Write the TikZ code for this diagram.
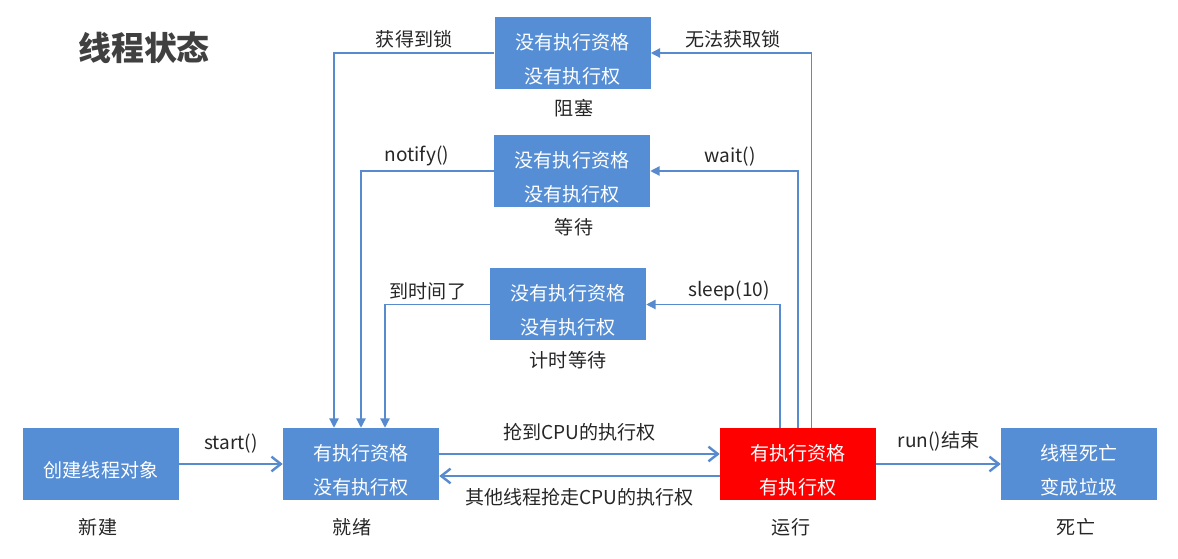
\documentclass[tikz,border=0pt]{standalone}
\usepackage{fontspec}
\setmainfont{Noto Sans CJK SC}
\usetikzlibrary{arrows.meta,positioning,calc}

\definecolor{boxblue}{RGB}{85,142,213}
\definecolor{lineblue}{RGB}{88,138,206}
\definecolor{titlegray}{RGB}{64,64,64}

\newcommand\lift{\rule{0pt}{21pt}}

\tikzset{
  state/.style={fill=boxblue, text=white, minimum width=117pt, minimum height=54pt,
                align=center, inner sep=0pt,
                font=\fontsize{14.3}{25.5}\selectfont},
  caption/.style={font=\fontsize{14.3}{17}\selectfont, text=black!85},
  lbl/.style={font=\fontsize{14.3}{17}\selectfont, text=black!85, inner sep=2pt},
  back/.style={draw=lineblue, line width=1pt, -{Triangle[length=7pt,width=7pt]}},
  go/.style={draw=lineblue, line width=1.8pt, -{Straight Barb[length=7pt,width=11pt]}}
}

\begin{document}
\begin{tikzpicture}[x=0.75pt, y=-0.75pt]
\useasboundingbox (0,0) rectangle (1178,559);

\node[font=\fontsize{24.7}{28}\selectfont\bfseries, text=titlegray] (title) at (144,48) {线程状态};

% states
\node[state] (block) at (572.5,53) {\lift 没有执行资格\\没有执行权};
\node[state] (wait) at (572,171) {\lift 没有执行资格\\没有执行权};
\node[state] (timed) at (568,304.5) {\lift 没有执行资格\\没有执行权};
\node[state] (new) at (101,464) {\lift 创建线程对象};
\node[state] (ready) at (361,464) {\lift 有执行资格\\没有执行权};
\node[state, fill=red] (run) at (798,464) {\lift 有执行资格\\有执行权};
\node[state] (dead) at (1079,464) {\lift 线程死亡\\变成垃圾};

% captions
\node[caption] (blockcap) at (574,108) {阻塞};
\node[caption] (waitcap) at (574,227) {等待};
\node[caption] (timedcap) at (568,360) {计时等待};
\node[caption] (newcap) at (98,527) {新建};
\node[caption] (readycap) at (352,527) {就绪};
\node[caption] (runcap) at (791,527) {运行};
\node[caption] (deadcap) at (1076,527) {死亡};

% back to ready
\draw[back] (block.west) -| node[lbl, pos=0.25, above=1pt] (getlock) {获得到锁} ($(ready.north)+(-27,0)$);
\draw[back] (wait.west) -| node[lbl, pos=0.29, above=1pt] (notify) {notify()} (ready.north);
\draw[back] (timed.west) -| node[lbl, pos=0.295, above=1pt] (timeup) {到时间了} ($(ready.north)+(24,0)$);

% from running
\draw[back] ($(run.north)+(-18,0)$) |- node[lbl, pos=0.69, above=0pt] (sleep) {sleep(10)} (timed.east);
\draw[back] (run.north) |- node[lbl, pos=0.73, above=1pt] (waitlbl) {wait()} (wait.east);
\draw[back] ($(run.north)+(13.5,0)$) |- node[lbl, pos=0.745, above=1pt] (nolock) {无法获取锁} (block.east);

% main line
\draw[go] (new) -- node[lbl, above=5pt] (start) {start()} (ready);
\draw[go] ($(ready.east)+(0,-10)$) -- node[lbl, above=6.5pt] (grab) {抢到CPU的执行权} ($(run.west)+(0,-10)$);
\draw[go] ($(run.west)+(0,12)$) -- node[lbl, below=6.5pt] (lose) {其他线程抢走CPU的执行权} ($(ready.east)+(0,12)$);
\draw[go] (run) -- node[lbl, above=6.5pt] (finish) {run()结束} (dead);

\end{tikzpicture}
\end{document}
